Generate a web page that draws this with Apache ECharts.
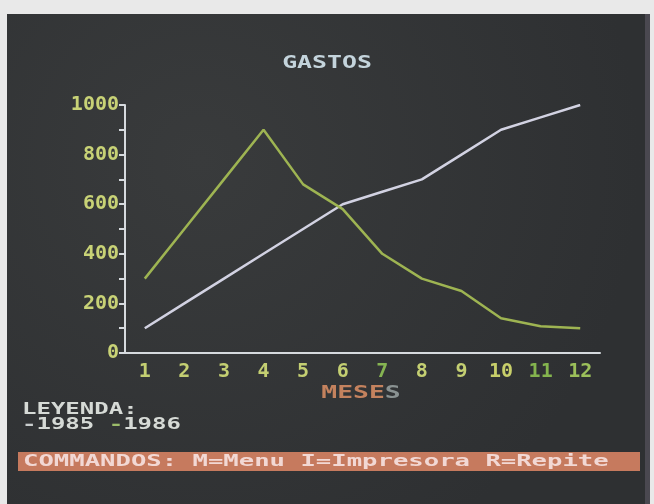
<!DOCTYPE html>
<html>
<head>
<meta charset="utf-8">
<script src="https://cdn.jsdelivr.net/npm/echarts@6/dist/echarts.min.js"></script>
<style>html,body{margin:0;padding:0;background:#e9e9e9;}#c{width:654px;height:504px;}</style>
</head>
<body>
<div id="c"></div>
<script>
const months = ['1','2','3','4','5','6','7','8','9','10','11','12'];
const gastos1985 = [100, 200, 300, 400, 500, 600, 650, 700, 800, 900, 950, 1000];
const gastos1986 = [300, 500, 700, 900, 680, 580, 400, 300, 250, 140, 108, 100];
const titleText = 'GASTOS';
const xName = 'MESES';
const legendTitle = 'LEYENDA:';
const seriesNames = ['1985', '1986'];
const commandText = 'COMMANDOS: M=Menu I=Impresora R=Repite';

const MONO = '"DejaVu Sans Mono", "Liberation Mono", monospace';
const labelColors = ['#c4cf72','#c4cf72','#c4cf72','#c4cf72','#c4cf72','#c4cf72','#86b452','#c4cf72','#c4cf72','#c8cf6a','#84b44e','#9cc05a'];

const chart = echarts.init(document.getElementById('c'), null, {renderer: 'canvas'});
chart.setOption({
  backgroundColor: '#e9e9e9',
  animation: false,
  grid: {left: 125, right: 54, top: 105, bottom: 151, containLabel: false},
  xAxis: {
    type: 'category',
    data: months,
    boundaryGap: true,
    axisLine: {lineStyle: {color: '#d6dade', width: 2}},
    axisTick: {alignWithLabel: true, length: 4, lineStyle: {color: '#d6dade', width: 2}},
    axisLabel: {
      margin: 9,
      fontFamily: MONO, fontWeight: 'bold', fontSize: 20,
      color: function (v, i) { return labelColors[i]; }
    },
    splitLine: {show: false}
  },
  yAxis: {
    type: 'value',
    min: 0, max: 1000, interval: 100,
    axisLine: {show: true, lineStyle: {color: '#d6dade', width: 2}},
    axisTick: {show: true, length: 6, lineStyle: {color: '#d6dade', width: 2}},
    axisLabel: {
      margin: 6,
      fontFamily: MONO, fontWeight: 'bold', fontSize: 20, color: '#c8d276',
      formatter: function (v) { return (v % 200 === 0) ? String(v) : ''; }
    },
    splitLine: {show: false}
  },
  series: [
    {name: seriesNames[0], type: 'line', data: gastos1985, symbol: 'none',
     lineStyle: {color: '#d2d2e2', width: 2.5}, z: 3},
    {name: seriesNames[1], type: 'line', data: gastos1986, symbol: 'none',
     lineStyle: {color: '#9eb452', width: 2.5}, z: 3}
  ],
  graphic: [
    {type: 'rect', z: -100, silent: true, shape: {x: 7, y: 14, width: 641, height: 490},
     style: {fill: new echarts.graphic.RadialGradient(0.3, 0.3, 0.9, [
       {offset: 0, color: '#393b3c'}, {offset: 1, color: '#2e3032'}])}},
    {type: 'rect', z: -100, silent: true, shape: {x: 645, y: 14, width: 5, height: 490},
     style: {fill: '#4a4850'}},
    {type: 'text', x: 327, y: 63, scaleX: 1.38,
     style: {text: titleText, font: 'bold 18px ' + MONO, fill: '#c4d4dc', align: 'center', verticalAlign: 'middle'}},
    {type: 'text', x: 361, y: 394, scaleX: 1.55,
     style: {text: '{a|MESE}{b|S}', align: 'center', verticalAlign: 'middle',
       rich: {a: {font: 'bold 17px ' + MONO, fill: '#c4825e'},
              b: {font: 'bold 17px ' + MONO, fill: '#8a9292'}}}},
    {type: 'text', x: 22, y: 410, scaleX: 1.5,
     style: {text: legendTitle, font: 'bold 16px ' + MONO, fill: '#d6dad6', align: 'left', verticalAlign: 'middle'}},
    {type: 'text', x: 22, y: 425, scaleX: 1.5,
     style: {text: '{w|-}{n|' + seriesNames[0] + ' }{g|-}{n|' + seriesNames[1] + '}', align: 'left', verticalAlign: 'middle',
       rich: {w: {font: 'bold 16px ' + MONO, fill: '#c8cccc'},
              g: {font: 'bold 16px ' + MONO, fill: '#9cbc6a'},
              n: {font: 'bold 16px ' + MONO, fill: '#d6dad6'}}}},
    {type: 'rect', z: -50, silent: true, shape: {x: 18, y: 452, width: 622, height: 19},
     style: {fill: '#c67a5e'}},
    {type: 'text', x: 23, y: 462, scaleX: 1.6,
     style: {text: commandText, font: 'bold 16px ' + MONO, fill: '#f2d8d4', align: 'left', verticalAlign: 'middle'}}
  ]
});
</script>
</body>
</html>
